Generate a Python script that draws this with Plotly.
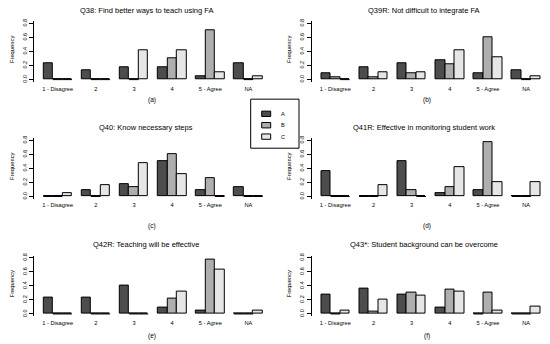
import plotly.graph_objects as go

# ---------------- data ----------------
categories = ["1 - Disagree", "2", "3", "4", "5 - Agree", "NA"]
groups = ["A", "B", "C"]
titles = [
    "Q38: Find better ways to teach using FA",
    "Q39R: Not difficult to integrate FA",
    "Q40: Know necessary steps",
    "Q41R: Effective in monitoring student work",
    "Q42R: Teaching will be effective",
    "Q43*: Student background can be overcome",
]
panel_labels = ["(a)", "(b)", "(c)", "(d)", "(e)", "(f)"]
y_ticks = [0.0, 0.2, 0.4, 0.6, 0.8]
y_tick_text = ["0.0", "0.2", "0.4", "0.6", "0.8"]

q38_a = [0.23, 0.14, 0.18, 0.18, 0.05, 0.23]
q38_b = [0.00, 0.00, 0.00, 0.30, 0.70, 0.00]
q38_c = [0.00, 0.00, 0.42, 0.42, 0.11, 0.05]

q39_a = [0.09, 0.18, 0.23, 0.27, 0.09, 0.14]
q39_b = [0.04, 0.04, 0.09, 0.22, 0.61, 0.00]
q39_c = [0.00, 0.11, 0.11, 0.42, 0.32, 0.05]

q40_a = [0.00, 0.09, 0.18, 0.50, 0.09, 0.14]
q40_b = [0.00, 0.00, 0.13, 0.61, 0.26, 0.00]
q40_c = [0.05, 0.16, 0.47, 0.32, 0.00, 0.00]

q41_a = [0.36, 0.00, 0.50, 0.05, 0.09, 0.00]
q41_b = [0.00, 0.00, 0.09, 0.13, 0.78, 0.00]
q41_c = [0.00, 0.16, 0.00, 0.42, 0.21, 0.21]

q42_a = [0.23, 0.23, 0.41, 0.09, 0.05, 0.00]
q42_b = [0.00, 0.00, 0.00, 0.22, 0.78, 0.00]
q42_c = [0.00, 0.00, 0.00, 0.32, 0.63, 0.05]

q43_a = [0.27, 0.36, 0.27, 0.09, 0.00, 0.00]
q43_b = [0.00, 0.04, 0.30, 0.35, 0.30, 0.00]
q43_c = [0.05, 0.21, 0.26, 0.32, 0.05, 0.11]

panels = [
    [q38_a, q38_b, q38_c],
    [q39_a, q39_b, q39_c],
    [q40_a, q40_b, q40_c],
    [q41_a, q41_b, q41_c],
    [q42_a, q42_b, q42_c],
    [q43_a, q43_b, q43_c],
]

# ---------------- style / layout ----------------
colors = ["#4D4D4D", "#AEAEAE", "#E6E6E6"]
FONT = "Liberation Sans, Arial, Helvetica, sans-serif"
W, H = 550, 344

col_axis_px = [33.8, 311.5]          # left edge of each column's plot area
unit_px = 9.54                       # px per bar unit
row_zero_px = [78.3, 196.2, 314.7]   # px of y = 0 for each row
y_scale = 70.75                      # px per frequency unit
y_lo, y_hi = -0.032, 0.832
x_lo, x_hi = 0.0, 25.0

title_x_px = [146, 424]
title_y_px = [8.3, 126.3, 244.6]
freq_x_px = [12, 289]
plab_x_px = [151.7, 426.7]
plab_y_px = [99, 226, 337]


def px_x(v):
    return v / W


def px_y(v):
    return 1 - v / H


fig = go.Figure()
annotations = []
shapes = []

for p, series in enumerate(panels):
    row, col = divmod(p, 2)
    n = p + 1
    xa = "x" if n == 1 else f"x{n}"
    ya = "y" if n == 1 else f"y{n}"
    xkey = "xaxis" if n == 1 else f"xaxis{n}"
    ykey = "yaxis" if n == 1 else f"yaxis{n}"

    for k, vals in enumerate(series):
        xs = [4 * g + k + 1.5 for g in range(len(categories))]
        fig.add_trace(go.Bar(
            x=xs, y=vals, width=1, name=groups[k],
            marker=dict(color=colors[k], line=dict(color="black", width=1)),
            xaxis=xa, yaxis=ya, showlegend=False,
            hovertext=categories, cliponaxis=False,
        ))
        # zero-height bars are drawn by R as a flat outline
        zx, zy = [], []
        for xv, v in zip(xs, vals):
            if v == 0:
                zx += [xv - 0.5, xv + 0.5, None]
                zy += [0, 0, None]
        if zx:
            fig.add_trace(go.Scatter(
                x=zx, y=zy, mode="lines", line=dict(color="black", width=1),
                xaxis=xa, yaxis=ya, showlegend=False, hoverinfo="skip",
            ))

    x0 = col_axis_px[col]
    x1 = x0 + (x_hi - x_lo) * unit_px
    z = row_zero_px[row]
    top = z - y_hi * y_scale
    bot = z - y_lo * y_scale

    fig.layout[xkey] = dict(
        domain=[px_x(x0), min(px_x(x1), 1.0)], range=[x_lo, x_hi], anchor=ya,
        showline=False, showgrid=False, zeroline=False, ticks="",
        tickvals=[4 * g + 2.5 for g in range(len(categories))],
        ticktext=categories, tickfont=dict(size=5.7, color="black", family=FONT),
        ticklabelstandoff=2,
    )
    fig.layout[ykey] = dict(
        domain=[px_y(bot), px_y(top)], range=[y_lo, y_hi], anchor=xa,
        showline=True, linecolor="black", linewidth=1,
        showgrid=False, zeroline=False, ticks="outside", ticklen=4,
        tickwidth=1, tickcolor="black",
        tickvals=y_ticks, ticktext=y_tick_text, tickangle=-90,
        tickfont=dict(size=5.5, color="black", family=FONT),
    )

    annotations.append(dict(
        text=titles[p], x=px_x(title_x_px[col]), y=px_y(title_y_px[row]),
        xref="paper", yref="paper", xanchor="center", yanchor="middle",
        showarrow=False, font=dict(size=7.5, color="black", family=FONT),
    ))
    annotations.append(dict(
        text="Frequency", x=px_x(freq_x_px[col]), y=px_y(z - 0.4 * y_scale - 1.5),
        xref="paper", yref="paper", xanchor="center", yanchor="middle",
        textangle=-90, showarrow=False,
        font=dict(size=5.8, color="black", family=FONT),
    ))
    annotations.append(dict(
        text=panel_labels[p], x=px_x(plab_x_px[col]), y=px_y(plab_y_px[row]),
        xref="paper", yref="paper", xanchor="center", yanchor="middle",
        showarrow=False, font=dict(size=6.5, color="black", family=FONT),
    ))

# ---------------- legend box (R-style) ----------------
leg_box = [250.7, 98, 299, 147.5]
leg_item_y = [112.8, 124.3, 135.8]
shapes.append(dict(
    type="rect", xref="paper", yref="paper",
    x0=px_x(leg_box[0]), x1=px_x(leg_box[2]),
    y0=px_y(leg_box[3]), y1=px_y(leg_box[1]),
    line=dict(color="black", width=1), fillcolor="white", layer="above",
))
for k, g in enumerate(groups):
    yc = leg_item_y[k]
    shapes.append(dict(
        type="rect", xref="paper", yref="paper",
        x0=px_x(261.7), x1=px_x(270.7), y0=px_y(yc + 2.7), y1=px_y(yc - 2.7),
        line=dict(color="black", width=1), fillcolor=colors[k], layer="above",
    ))
    annotations.append(dict(
        text=g, x=px_x(282.7), y=px_y(yc), xref="paper", yref="paper",
        xanchor="center", yanchor="middle", showarrow=False,
        font=dict(size=5.5, color="black", family=FONT),
    ))

fig.update_layout(
    width=W, height=H, margin=dict(l=0, r=0, t=0, b=0),
    paper_bgcolor="white", plot_bgcolor="white",
    barmode="overlay", bargap=0, showlegend=False,
    font=dict(family=FONT, color="black"),
    annotations=annotations, shapes=shapes,
)

fig.write_html(
    "out.html",
    config={"displayModeBar": False},
    post_script="document.body.style.margin='0';document.body.style.overflow='hidden';",
)
